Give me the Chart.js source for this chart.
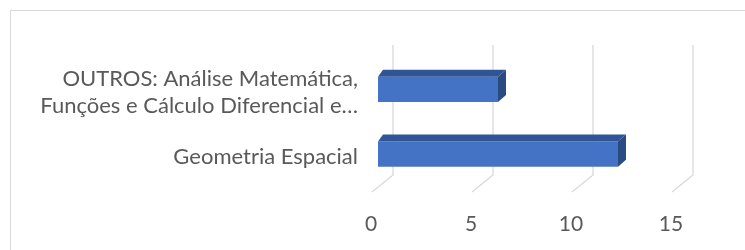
<!DOCTYPE html>
<html>
<head>
<meta charset="utf-8">
<script src="https://cdn.jsdelivr.net/npm/chart.js@4.4.1/dist/chart.umd.min.js"></script>
<style>
  html, body { margin: 0; padding: 0; background: #ffffff; overflow: hidden; }
  #frame { position: absolute; left: 10px; top: 10px; width: 800px; height: 300px; border: 1px solid #d9d9d9; box-sizing: border-box; }
  #wrap { position: absolute; left: 0; top: 0; width: 745px; height: 250px; }
</style>
</head>
<body>
<div id="frame"></div>
<div id="wrap"><canvas id="c" width="745" height="250"></canvas></div>
<script>
const categories = [
  ["OUTROS: Análise Matemática,", "Funções e Cálculo Diferencial e…"],
  "Geometria Espacial"
];
const values = [6, 12];
const tickValues = [0, 5, 10, 15];

const FONT = "Lato, 'Open Sans', sans-serif";
const DX = 8, DY = -7;

const depthPlugin = {
  id: 'depth3d',
  beforeDatasetsDraw(chart) {
    const ctx = chart.ctx, xs = chart.scales.x, ca = chart.chartArea;
    ctx.save();
    ctx.strokeStyle = '#d9d9d9';
    ctx.lineWidth = 1.3;
    xs.ticks.forEach(t => {
      const px = xs.getPixelForValue(t.value);
      const fx = px - 6, fy = ca.bottom + 5.5;
      const bx = px + 15, by = ca.bottom - 11.5;
      ctx.beginPath();
      ctx.moveTo(fx, fy);
      ctx.lineTo(bx, by);
      ctx.lineTo(bx, ca.top - 12);
      ctx.stroke();
    });
    ctx.restore();
  },
  afterDatasetsDraw(chart) {
    const ctx = chart.ctx;
    const meta = chart.getDatasetMeta(0);
    ctx.save();
    meta.data.forEach(bar => {
      const p = bar.getProps(['x', 'y', 'base', 'height'], true);
      const left = p.base, right = p.x, top = p.y - p.height / 2, bottom = p.y + p.height / 2;
      ctx.fillStyle = '#2f5597';
      ctx.beginPath();
      ctx.moveTo(left, top);
      ctx.lineTo(left + DX - 3, top + DY);
      ctx.lineTo(right + DX, top + DY);
      ctx.lineTo(right, top);
      ctx.closePath();
      ctx.fill();
      ctx.fillStyle = '#2a4a82';
      ctx.beginPath();
      ctx.moveTo(right, top);
      ctx.lineTo(right + DX, top + DY);
      ctx.lineTo(right + DX, bottom + DY);
      ctx.lineTo(right, bottom);
      ctx.closePath();
      ctx.fill();
    });
    ctx.restore();
  }
};

new Chart(document.getElementById('c'), {
  type: 'bar',
  data: {
    labels: categories,
    datasets: [{
      data: values,
      backgroundColor: '#4472c4',
      borderWidth: 0,
      barPercentage: 0.78,
      categoryPercentage: 0.5
    }]
  },
  options: {
    indexAxis: 'y',
    responsive: false,
    animation: false,
    events: [],
    layout: { padding: { top: 57, right: 67, bottom: 0, left: 0 } },
    plugins: { legend: { display: false }, tooltip: { enabled: false } },
    scales: {
      x: {
        min: 0, max: 15,
        afterBuildTicks(scale) { scale.ticks = tickValues.map(v => ({ value: v })); },
        afterFit(scale) { scale.height = 63.5; },
        grid: { display: false, drawTicks: false },
        border: { display: false },
        ticks: {
          padding: 25,
          labelOffset: -7,
          color: '#595959',
          font: { family: FONT, size: 21 }
        }
      },
      y: {
        afterFit(scale) { scale.width = 378; },
        grid: { display: false, drawTicks: false },
        border: { display: false },
        ticks: {
          padding: 20,
          labelOffset: 3,
          color: '#595959',
          font: { family: FONT, size: 22, lineHeight: 1.25 }
        }
      }
    }
  },
  plugins: [depthPlugin]
});
</script>
</body>
</html>
